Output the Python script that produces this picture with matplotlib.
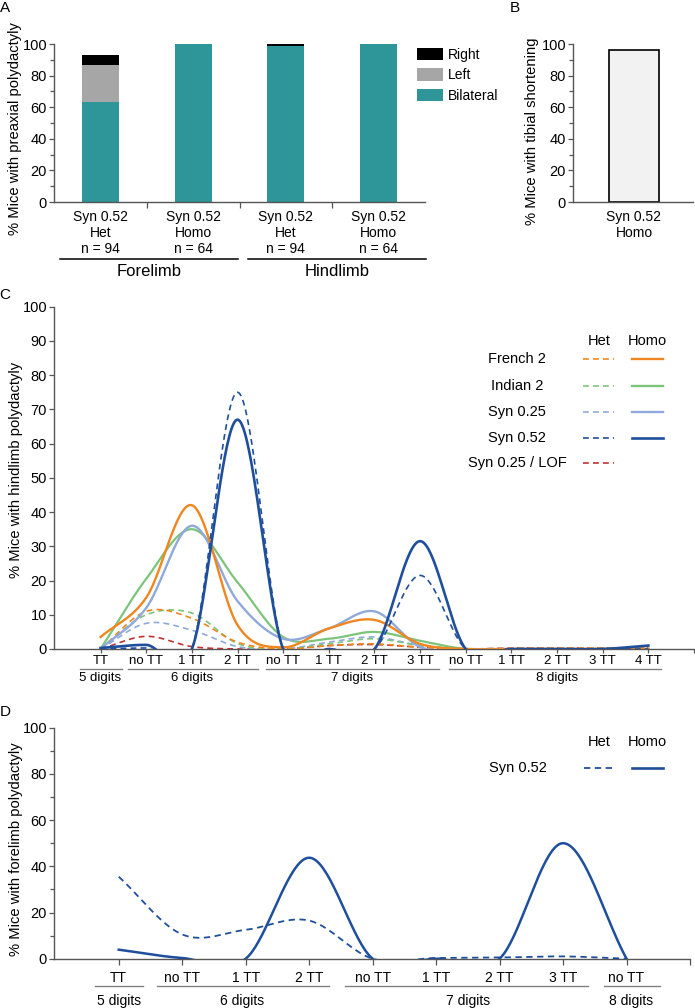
import numpy as np
import matplotlib
matplotlib.use('Agg')
import matplotlib.pyplot as plt
import matplotlib.transforms as mtransforms
from matplotlib import font_manager

plt.rcParams['font.family'] = ['Liberation Sans', 'DejaVu Sans']

# ---- data -------------------------------------------------------------
# panel A: preaxial polydactyly (% mice), stacked
a_labels = ['Syn 0.52\nHet\nn = 94', 'Syn 0.52\nHomo\nn = 64',
            'Syn 0.52\nHet\nn = 94', 'Syn 0.52\nHomo\nn = 64']
a_bilateral = [63, 100, 99, 100]
a_left = [23.5, 0, 0, 0]
a_right = [6.5, 0, 1, 0]
a_limbs = ['Forelimb', 'Hindlimb']

# panel B: tibial shortening
b_labels = ['Syn 0.52\nHomo']
b_values = [96]

# panel C: hindlimb polydactyly
c_ticks = ['TT', 'no TT', '1 TT', '2 TT', 'no TT', '1 TT', '2 TT', '3 TT',
           'no TT', '1 TT', '2 TT', '3 TT', '4 TT']
c_digits = ['5 digits', '6 digits', '7 digits', '8 digits']
c_french2_het = [0, 11, 9, 2, 0, 1, 1.5, 0.5, 0, 0.3, 0.3, 0.3, 0.3]
c_french2_homo = [3.5, 15, 42, 7, 0.5, 6, 8.5, 1.5, 0, 0, 0, 0, 0]
c_indian2_het = [0, 10, 10.5, 1.6, 0, 1.5, 3, 1, 0, 0, 0, 0, 0]
c_indian2_homo = [0, 20.5, 35, 19.5, 3.5, 3, 5, 2.4, 0, 0, 0, 0, 0]
c_syn025_het = [0, 7.5, 5.5, 0.7, 0, 2, 3.5, 1, 0, 0, 0, 0, 0]
c_syn025_homo = [0, 12, 36, 14, 3, 6, 11, 0.6, 0, 0, 0, 0, 0]
c_syn052_het = [0, 0.3, 0, 75, 0, 0, 0, 21.5, 0, 0, 0, 0, 0]
c_syn052_homo = [0.3, 1.2, 0, 67, 0, 0, 0, 31.5, 0, 0, 0, 0, 1]
c_lof_het = [0, 3.7, 0.7, 0, 0, 1, 1.3, 0.5, 0, 0.3, 0.3, 0.3, 0.5]

# panel D: forelimb polydactyly
d_ticks = ['TT', 'no TT', '1 TT', '2 TT', 'no TT', '1 TT', '2 TT', '3 TT', 'no TT']
d_digits = ['5 digits', '6 digits', '7 digits', '8 digits']
d_syn052_het = [35.5, 10.5, 12.5, 16.5, 0, 0.3, 0.5, 1, 0]
d_syn052_homo = [3.9, 0.3, 0, 43.7, 0, 0, 0, 50, 0]

# ---- style ------------------------------------------------------------
TEAL, GREY = '#2e9598', '#a6a6a6'
ORANGE, GREEN, LBLUE, DBLUE, RED = '#f0861f', '#7dc47b', '#8fa9da', '#1f4f9c', '#c03232'
AXC = '#555555'

names = {f.name for f in font_manager.fontManager.ttflist}
NARROW = 'Liberation Sans Narrow' if 'Liberation Sans Narrow' in names else 'Liberation Sans'
d_fs = 11.5 if NARROW != 'Liberation Sans' else 10

W, H = 695, 1008
fig = plt.figure(figsize=(W / 100, H / 100), dpi=100)
PX = mtransforms.Affine2D().scale(1 / W, -1 / H).translate(0, 1) + fig.transFigure


def add_ax(x0, y0, x1, y1):
    return fig.add_axes([x0 / W, 1 - y1 / H, (x1 - x0) / W, (y1 - y0) / H])


def below(ax, px, dx=0):
    return mtransforms.offset_copy(ax.get_xaxis_transform(), fig=fig,
                                   x=dx * 0.72, y=-px * 0.72, units='points')


def style(ax):
    for s in ('top', 'right'):
        ax.spines[s].set_visible(False)
    for s in ('left', 'bottom'):
        ax.spines[s].set_color(AXC)
        ax.spines[s].set_linewidth(1.0)
    ax.tick_params(which='both', direction='out', color=AXC, width=0.9)
    ax.tick_params(axis='y', which='major', length=3.5, labelsize=10.5, pad=1.5)
    ax.tick_params(axis='y', which='minor', length=3)


def smooth(values, n=40):
    # Catmull-Rom style smoothing through the points
    y = np.asarray(values, float)
    m = np.gradient(y)
    t = np.linspace(0, 1, n)
    h00 = 2 * t**3 - 3 * t**2 + 1
    h10 = t**3 - 2 * t**2 + t
    h01 = -2 * t**3 + 3 * t**2
    h11 = t**3 - t**2
    xs, ys = [], []
    for i in range(len(y) - 1):
        xs.append(i + t)
        ys.append(h00 * y[i] + h10 * m[i] + h01 * y[i + 1] + h11 * m[i + 1])
    return np.concatenate(xs), np.concatenate(ys)


def ylab(text, x, y):
    fig.text(x / W, 1 - y / H, text, rotation=90, ha='center', va='center',
             fontsize=10.6)


def letter(text, x, y):
    fig.text(x / W, 1 - y / H, text, ha='center', va='center', fontsize=11)


# ---- panel A ----------------------------------------------------------
ax = add_ax(54, 44, 425, 202)
style(ax)
xa = np.arange(len(a_labels))
bottom_left = np.array(a_bilateral)
bottom_right = bottom_left + np.array(a_left)
bb = ax.bar(xa, a_bilateral, 0.4, color=TEAL, label='Bilateral')
bl = ax.bar(xa, a_left, 0.4, bottom=bottom_left, color=GREY, label='Left')
br = ax.bar(xa, a_right, 0.4, bottom=bottom_right, color='black', label='Right')
ax.set_xlim(-0.5, 3.5)
ax.set_ylim(0, 100)
ax.set_yticks(range(0, 101, 20))
ax.set_yticks(range(0, 101, 10), minor=True)
ax.set_xticks(xa)
ax.set_xticklabels(a_labels, fontsize=10, linespacing=1.15)
ax.set_xticks([0.5, 1.5, 2.5], minor=True)
ax.tick_params(axis='x', which='major', length=0, pad=6)
ax.tick_params(axis='x', which='minor', length=4)
leg = ax.legend([br, bl, bb], ['Right', 'Left', 'Bilateral'], frameon=False,
                loc='upper left', bbox_to_anchor=(417 / W, 1 - 48 / H),
                bbox_transform=fig.transFigure, borderpad=0, borderaxespad=0,
                handlelength=1.85, handleheight=1.0, labelspacing=0.45,
                handletextpad=0.4, fontsize=10)
for (x0, x1), name in zip([(-0.435, 1.484), (1.59, 3.51)], a_limbs):
    ax.plot([x0, x1], [0, 0], color='black', lw=1.1, clip_on=False,
            transform=below(ax, 57))
    ax.text((x0 + x1) / 2, 0, name, ha='center', va='center', fontsize=12,
            transform=below(ax, 70))
ylab('% Mice with preaxial polydactyly', 15, 129)
letter('A', 5, 8)

# ---- panel B ----------------------------------------------------------
ax = add_ax(573, 44, 693, 202)
style(ax)
ax.bar(range(len(b_values)), b_values, 0.5, color='#f2f2f2',
       edgecolor='black', linewidth=1.2)
ax.set_xlim(-0.62, 0.6)
ax.set_ylim(0, 100)
ax.set_yticks(range(0, 101, 20))
ax.set_yticks(range(0, 101, 10), minor=True)
ax.set_xticks(range(len(b_labels)))
ax.set_xticklabels(b_labels, fontsize=10, linespacing=1.15)
ax.tick_params(axis='x', length=0, pad=6)
ylab('% Mice with tibial shortening', 532, 131)
letter('B', 515, 8)

# ---- panel C ----------------------------------------------------------
ax = add_ax(54, 306.7, 694, 649)
style(ax)
ax.set_xlim(-1.02, 13.0)
ax.set_ylim(0, 100)
ax.set_yticks(range(0, 101, 10))
ax.set_xticks(list(range(len(c_ticks))) + [13])
ax.set_xticklabels(c_ticks + [''], fontsize=9.5)
ax.tick_params(axis='x', length=3, pad=1.5)

dash = (0, (3.5, 2.5))
c_series = [
    (c_lof_het, RED, dash, 1.2),
    (c_syn025_het, LBLUE, dash, 1.2),
    (c_indian2_het, GREEN, dash, 1.2),
    (c_french2_het, ORANGE, dash, 1.2),
    (c_indian2_homo, GREEN, '-', 1.6),
    (c_syn025_homo, LBLUE, '-', 1.7),
    (c_french2_homo, ORANGE, '-', 1.7),
    (c_syn052_het, DBLUE, dash, 1.2),
    (c_syn052_homo, DBLUE, '-', 1.9),
]
for vals, col, ls, lw in c_series:
    xs, ys = smooth(vals)
    ax.plot(xs, ys, color=col, ls=ls, lw=lw, zorder=3)

for (x0, x1), (xc, name) in zip([(-0.45, 0.47), (0.6, 3.45), (3.62, 7.41), (7.63, 12.27)],
                                zip([0, 2, 5.5, 10], c_digits)):
    ax.plot([x0, x1], [0, 0], color='#808080', lw=1.0, clip_on=False,
            transform=below(ax, 20))
    ax.text(xc, 0, name, ha='center', va='center', fontsize=9.5,
            transform=below(ax, 29.5))

# legend C
fig.text(599 / W, 1 - 341 / H, 'Het', ha='center', va='center', fontsize=10.5)
fig.text(647 / W, 1 - 341 / H, 'Homo', ha='center', va='center', fontsize=10.5)
c_legend = [('French 2', ORANGE, True), ('Indian 2', GREEN, True),
            ('Syn 0.25', LBLUE, True), ('Syn 0.52', DBLUE, True),
            ('Syn 0.25 / LOF', RED, False)]
for (name, col, homo), yy in zip(c_legend, [359.3, 385.7, 411.7, 438.3, 462.7]):
    fig.text(517 / W, 1 - yy / H, name, ha='center', va='center', fontsize=10.5)
    ax.plot([583, 614], [yy, yy], color=col, ls=dash, lw=1.2, transform=PX,
            clip_on=False)
    if homo:
        ax.plot([632, 663], [yy, yy], color=col, lw=1.9 if col == DBLUE else 1.7,
                transform=PX, clip_on=False)
ylab('% Mice with hindlimb polydactyly', 16, 470)
letter('C', 5, 295)

# ---- panel D ----------------------------------------------------------
ax = add_ax(54, 727.7, 690, 958.7)
style(ax)
ax.set_xlim(-1.02, 9.0)
ax.set_ylim(0, 100)
ax.set_yticks(range(0, 101, 20))
ax.set_yticks(range(0, 101, 10), minor=True)
ax.set_xticks(list(range(len(d_ticks))) + [9])
ax.set_xticklabels(d_ticks + [''], fontsize=d_fs, family=[NARROW, 'DejaVu Sans'])
ax.tick_params(axis='x', length=4, pad=5)

xs, ys = smooth(d_syn052_het)
ax.plot(xs, ys, color=DBLUE, ls=dash, lw=1.3, zorder=3)
xs, ys = smooth(d_syn052_homo)
ax.plot(xs, ys, color=DBLUE, lw=1.8, zorder=3)

for (x0, x1), (xc, name) in zip([(-0.38, 0.39), (0.6, 3.32), (3.57, 7.4), (7.64, 8.52)],
                                zip([0, 1.95, 5.5, 8.07], d_digits)):
    ax.plot([x0, x1], [0, 0], color='#808080', lw=1.0, clip_on=False,
            transform=below(ax, 27.3))
    ax.text(xc, 0, name, ha='center', va='center', fontsize=d_fs,
            family=[NARROW, 'DejaVu Sans'], transform=below(ax, 42))

fig.text(599 / W, 1 - 741.7 / H, 'Het', ha='center', va='center', fontsize=10.5)
fig.text(647 / W, 1 - 741.7 / H, 'Homo', ha='center', va='center', fontsize=10.5)
fig.text(546.7 / W, 1 - 768.3 / H, 'Syn 0.52', ha='right', va='center', fontsize=10.5)
ax.plot([584, 614], [768.3, 768.3], color=DBLUE, ls=dash, lw=1.3, transform=PX,
        clip_on=False)
ax.plot([632, 663], [768.3, 768.3], color=DBLUE, lw=1.9, transform=PX,
        clip_on=False)
ylab('% Mice with forelimb polydactyly', 16, 849)
letter('D', 5, 712)

fig.savefig('out.png', dpi=100)
